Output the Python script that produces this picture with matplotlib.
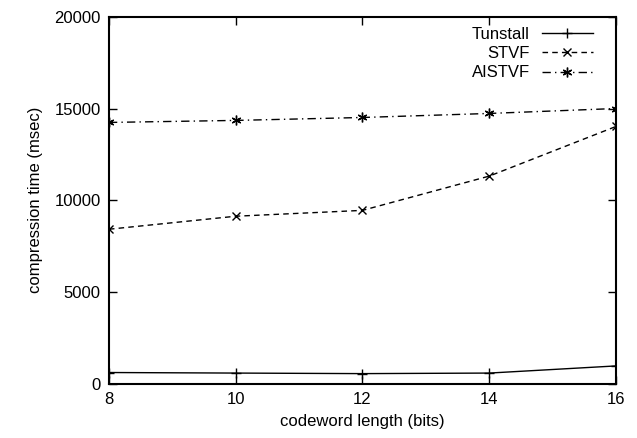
import matplotlib
matplotlib.use("Agg")
import matplotlib.pyplot as plt

plt.rcParams['font.family'] = ['Liberation Sans', 'DejaVu Sans']

bits = [8, 10, 12, 14, 16]
tunstall = [600, 570, 540, 570, 960]
stvf = [8420, 9130, 9450, 11320, 14030]
aistvf = [14250, 14360, 14520, 14740, 15010]

fig = plt.figure(figsize=(6.37, 4.38), dpi=100)
ax = fig.add_axes([0.171, 0.1244, 0.796, 0.8366])

ax.plot(bits, tunstall, color="black", lw=1, linestyle="-", marker="+", ms=7, mew=1, label="Tunstall")
ax.plot(bits, stvf, color="black", lw=1, linestyle=(0, (4, 3)), marker="x", ms=6, mew=1, label="STVF")
ax.plot(bits, aistvf, color="black", lw=1, linestyle=(0, (6, 3, 1, 3)), marker=(6, 2, 0), ms=7, mew=1, label="AISTVF")

ax.set_xlim(8, 16)
ax.set_ylim(0, 20000)
ax.set_xticks(bits)
ax.set_yticks([0, 5000, 10000, 15000, 20000])
ax.tick_params(direction="in", top=True, right=True, length=6, width=1, labelsize=12, pad=6)
for s in ax.spines.values():
    s.set_linewidth(1.5)

ax.set_xlabel("codeword length (bits)", fontsize=12, labelpad=5)
ax.set_ylabel("compression time (msec)", fontsize=12, labelpad=8)

# gnuplot-style key: right-aligned text, sample to the right
leg = ax.legend(loc="upper right", frameon=False, markerfirst=False, fontsize=12,
                handlelength=3.1, labelspacing=0.25, borderaxespad=0.2, borderpad=0.4,
                handletextpad=0.7, bbox_to_anchor=(0.975, 1.0))
for t in leg.get_texts():
    t.set_ha("right")

fig.savefig("out.png", dpi=100)
